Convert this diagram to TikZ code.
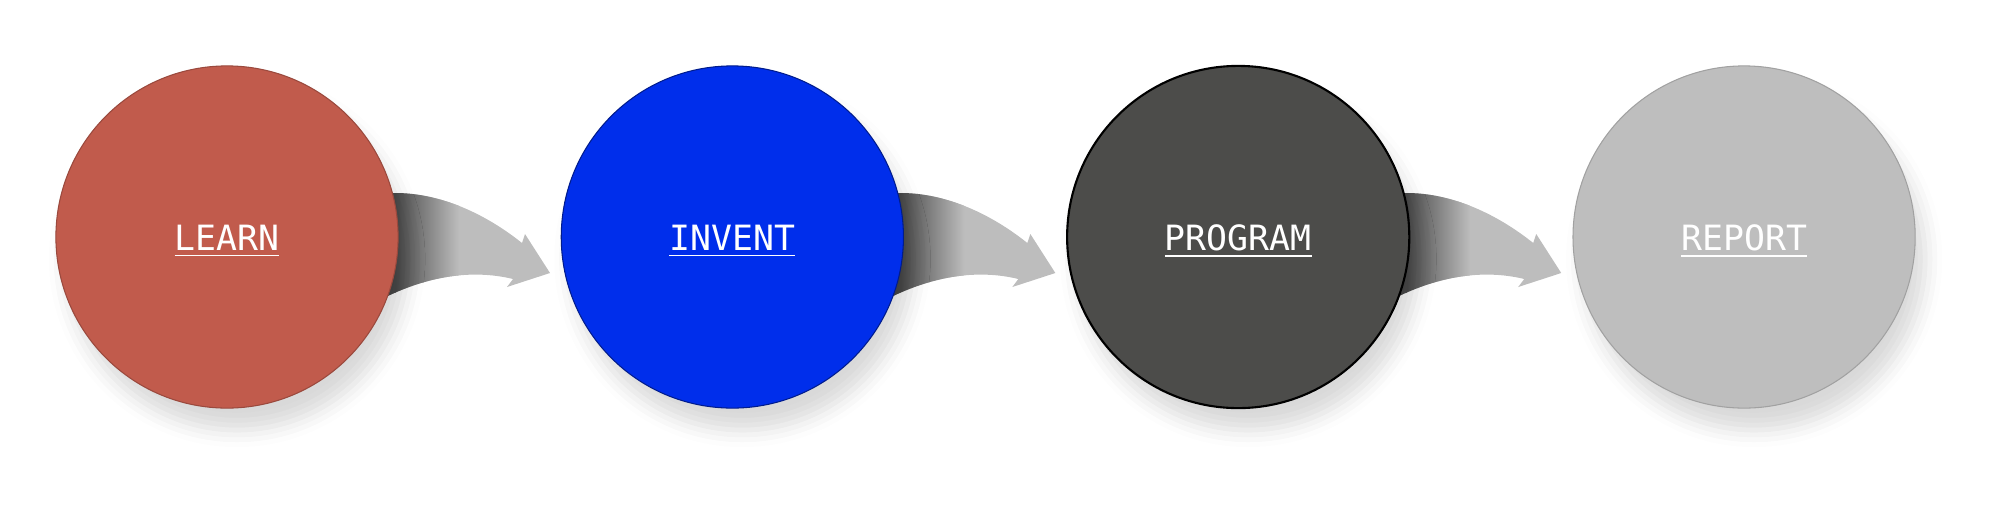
\documentclass[tikz,border=0pt]{standalone}
\usepackage{fontspec}
\newfontfamily\stagefont{DejaVu Sans Mono}
\usetikzlibrary{positioning, shadows.blur}

\definecolor{learnred}{HTML}{C15B4C}
\definecolor{inventblue}{HTML}{002EEB}
\definecolor{programgray}{HTML}{4C4C4A}
\definecolor{reportgray}{HTML}{BEBEBE}
\definecolor{arrowdark}{HTML}{4A4A4A}
\definecolor{arrowlight}{HTML}{BDBDBD}

\pgfdeclarelayer{background}
\pgfsetlayers{background,main}

\begin{document}
\begin{tikzpicture}[
			x=0.01cm, y=0.01cm,
			node distance=1.62cm,
			stagebox/.style={circle, minimum size=3.42cm, inner sep=0pt, text=white,
				text height=0.27cm, text depth=0cm,
				font=\stagefont\fontsize{9.9}{12}\selectfont,
				blur shadow={shadow xshift=0.1cm, shadow yshift=-0.22cm, shadow blur radius=0.17cm, shadow opacity=15}},
			flowarrow/.pic={
				\begin{scope}
					\clip (140,44) -- (168,44) .. controls (215,44) and (260,22) .. (295,-6) -- (298,3)
						-- (323,-36) -- (280,-50) -- (286,-42) .. controls (245,-32) and (195,-38) .. (140,-70) -- cycle;
					\fill[arrowlight] (130,-80) rectangle (330,60);
					\fill[arrowdark] (130,-80) rectangle (169,60);
					\shade[left color=arrowdark, right color=arrowlight] (168,-80) rectangle (232,60);
				\end{scope}
			}
		]
		\useasboundingbox (0,0) rectangle (1999,517);

		\node[stagebox, fill=learnred, draw=learnred!80!black, line width=0.3pt] (learn) at (227,280) {\underline{LEARN}};
		\node[stagebox, fill=inventblue, draw=inventblue!60!black, line width=0.3pt, right=of learn] (invent) {\underline{INVENT}};
		\node[stagebox, fill=programgray, draw=black, line width=0.6pt, right=of invent] (program) {\underline{PROGRAM}};
		\node[stagebox, fill=reportgray, draw=reportgray!85!black, line width=0.3pt, right=of program] (report) {\underline{REPORT}};

		% curved arrows behind the circles
		\begin{pgfonlayer}{background}
			\foreach \a/\b in {learn/invent, invent/program, program/report}
				\pic at (\a.center) {flowarrow};
		\end{pgfonlayer}
	\end{tikzpicture}
\end{document}
